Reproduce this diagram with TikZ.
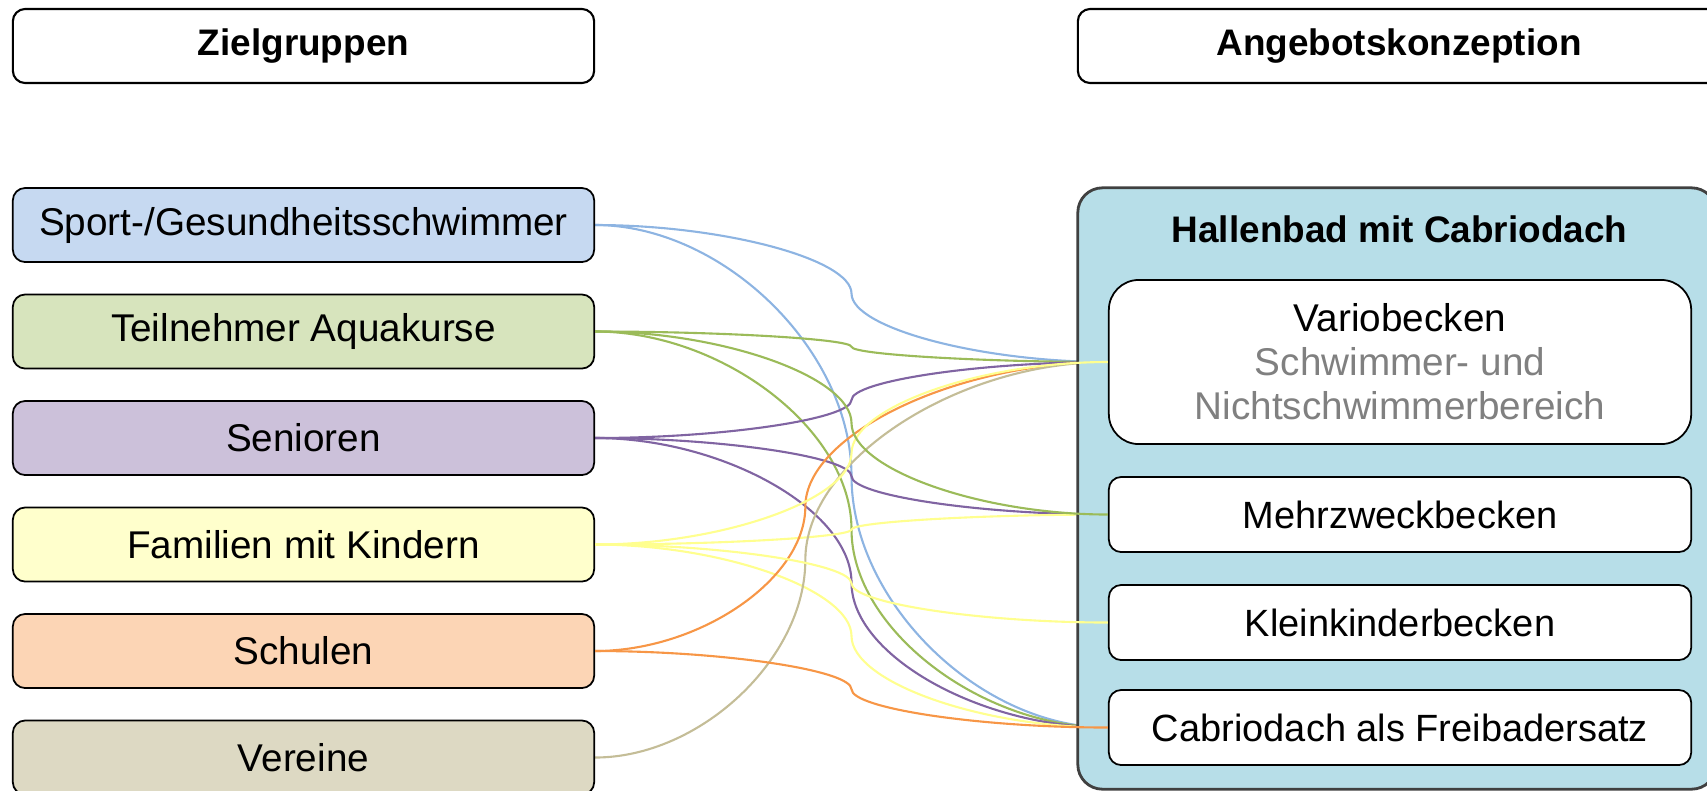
\documentclass[tikz,border=0pt]{standalone}
\usepackage{fontspec}
\setmainfont{Liberation Sans}
\usetikzlibrary{calc,backgrounds}

\definecolor{sportfill}{HTML}{C6D9F1}
\definecolor{sportline}{HTML}{8DB4E2}
\definecolor{aquafill}{HTML}{D7E4BD}
\definecolor{aqualine}{HTML}{9BBB59}
\definecolor{seniorfill}{HTML}{CCC1DA}
\definecolor{seniorline}{HTML}{8064A2}
\definecolor{familyfill}{HTML}{FFFFCC}
\definecolor{familyline}{HTML}{FFFF8F}
\definecolor{schoolfill}{HTML}{FCD5B5}
\definecolor{schoolline}{HTML}{F79646}
\definecolor{clubfill}{HTML}{DDD9C3}
\definecolor{clubline}{HTML}{C4BD97}
\definecolor{hallfill}{HTML}{B7DEE8}
\definecolor{subgray}{HTML}{808080}

\begin{document}
\begin{tikzpicture}[x=0.01cm,y=-0.01cm,
	every node/.style={font=\fontsize{10.8}{12.5}\selectfont},
	title/.style={draw, rounded corners=3.5pt, line width=0.6pt, minimum width=5.81cm, minimum height=0.74cm, font=\bfseries\fontsize{10.5}{12}\selectfont},
	group/.style={draw, rounded corners=3.5pt, line width=0.5pt, minimum width=5.81cm, minimum height=0.74cm, font=\fontsize{11}{13}\selectfont},
	pool/.style={draw, fill=white, rounded corners=3.5pt, line width=0.5pt, minimum width=5.82cm, minimum height=0.75cm},
	link/.style={line width=0.6pt, to path={let \p1=(\tikztostart), \p2=(\tikztotarget), \p3=($(\p1)!0.5!(\p2)$), \p4=($(\p1)!#1!(\p2)$) in
		.. controls ({\x1+0.5*(\x4-\x1)},\y1) and (\x4,{\y3+0.5*(\y1-\y3)}) .. (\x4,\y3)
		.. controls (\x4,{\y3+0.5*(\y2-\y3)}) and ({\x2-0.5*(\x2-\x4)},\y2) .. (\p2)}},
	link/.default=0.5]
	
	\useasboundingbox (0,0) rectangle (1707,790);
	
	% Draw nodes
	\node[title] (zg) at (303.5,46) {Zielgruppen};
	\node[title, minimum width=6.42cm] (ak) at (1399,46) {Angebotskonzeption};
	
	\node[group, fill=sportfill] (sport) at (303.5,225) {Sport-/Gesundheitsschwimmer};
	\node[group, fill=aquafill] (aqua) at (303.5,331.5) {Teilnehmer Aquakurse};
	\node[group, fill=seniorfill] (senior) at (303.5,438) {Senioren};
	\node[group, fill=familyfill] (family) at (303.5,544.5) {Familien mit Kindern};
	\node[group, fill=schoolfill] (school) at (303.5,651) {Schulen};
	\node[group, fill=clubfill] (club) at (303.5,757.5) {Vereine};
	
	\node[draw=black!75, fill=hallfill, rounded corners=7pt, line width=0.8pt, minimum width=6.38cm, minimum height=6.01cm] (hall) at (1397,488.5) {};
	\node[font=\bfseries\fontsize{10.5}{12}\selectfont] (hallname) at (1399.5,229) {Hallenbad mit Cabriodach};
	\node[pool, rounded corners=8.5pt, minimum height=1.64cm, align=center, font=\fontsize{11}{12.5}\selectfont] (vario) at (1400,362) {Variobecken\\\textcolor{subgray}{Schwimmer- und}\\\textcolor{subgray}{Nichtschwimmerbereich}};
	\node[pool] (mehr) at (1400,514.5) {Mehrzweckbecken};
	\node[pool] (klein) at (1400,622.5) {Kleinkinderbecken};
	\node[pool] (cabrio) at (1400,727.5) {Cabriodach als Freibadersatz};
	
	% Draw links, the ones running under the hall
	\begin{pgfonlayer}{background}
	\draw[link, sportline] (sport.east) to (vario.west);
	\draw[link, sportline] (sport.east) to (cabrio.west);
	\draw[link, aqualine] (aqua.east) to (vario.west);
	\draw[link, aqualine] (aqua.east) to (cabrio.west);
	\draw[link, seniorline] (senior.east) to (vario.west);
	\draw[link, seniorline] (senior.east) to (mehr.west);
	\draw[link, seniorline] (senior.east) to (cabrio.west);
	\draw[link, familyline] (family.east) to (mehr.west);
	\draw[link, familyline] (family.east) to (cabrio.west);
	\draw[link=0.41, schoolline] (school.east) to (vario.west);
	\draw[link=0.41, clubline] (club.east) to (vario.west);
	\end{pgfonlayer}
	
	% Draw links, the ones lying on top
	\draw[link, familyline] (family.east) to (vario.west);
	\draw[link, aqualine] (aqua.east) to (mehr.west);
	\draw[link, familyline] (family.east) to (klein.west);
	\draw[link, schoolline] (school.east) to (cabrio.west);
	
\end{tikzpicture}
\end{document}
